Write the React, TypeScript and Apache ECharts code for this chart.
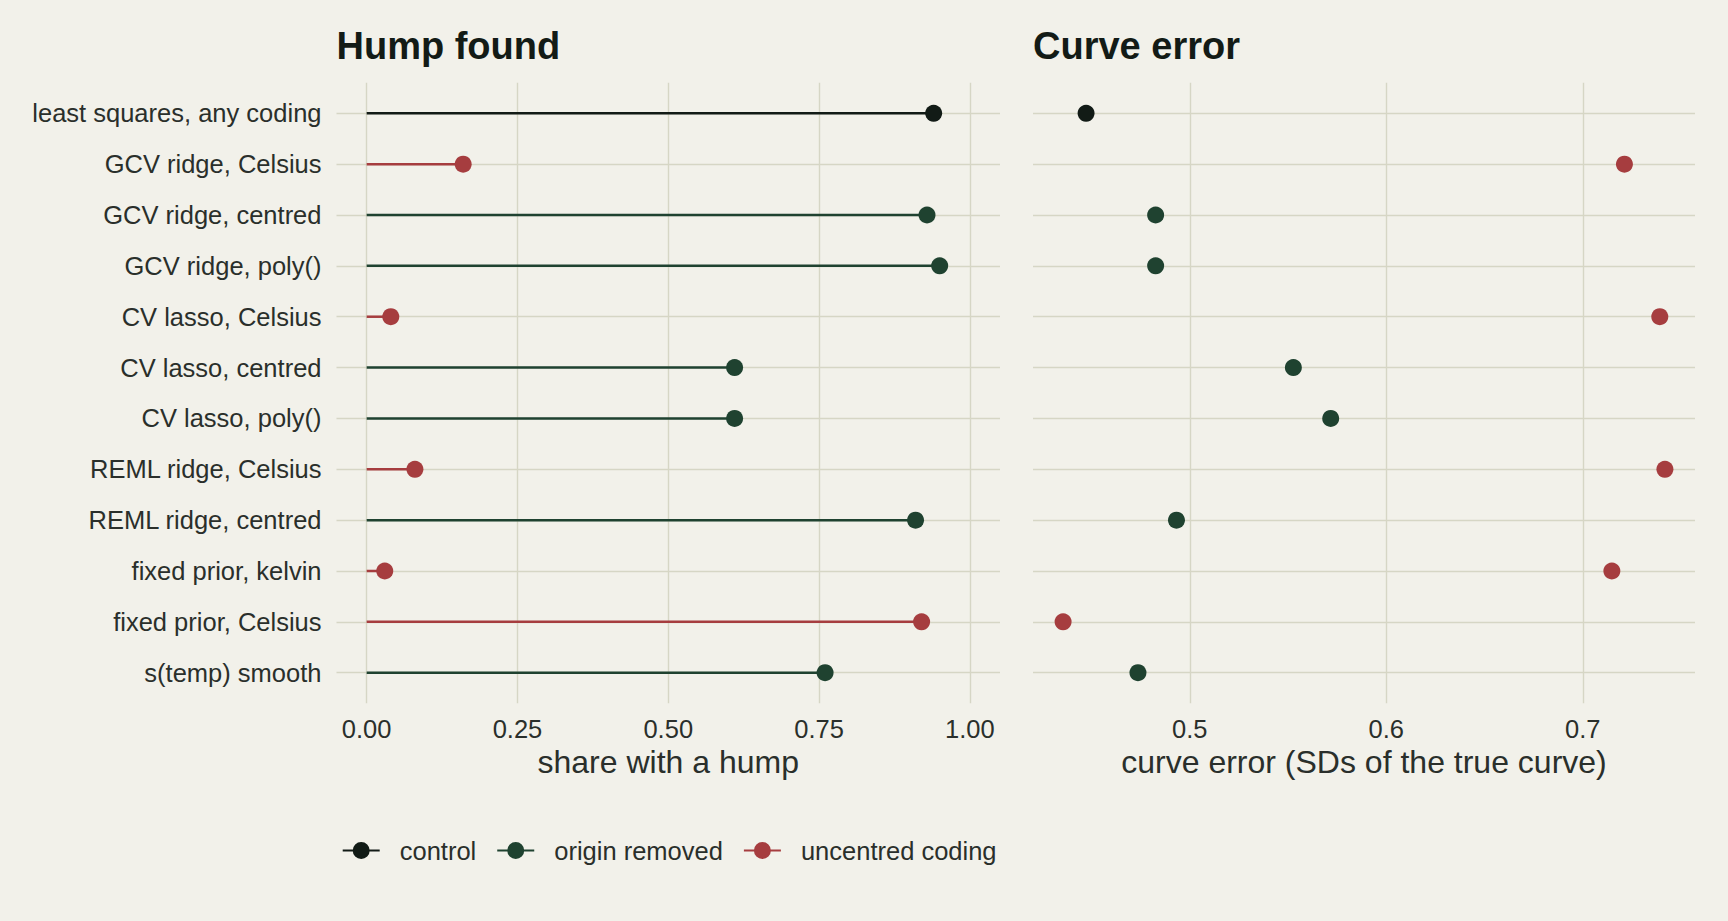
import React, { useEffect, useRef } from "react";
import * as echarts from "echarts";

// ---------- data ----------
const categories = [
  "least squares, any coding",
  "GCV ridge, Celsius",
  "GCV ridge, centred",
  "GCV ridge, poly()",
  "CV lasso, Celsius",
  "CV lasso, centred",
  "CV lasso, poly()",
  "REML ridge, Celsius",
  "REML ridge, centred",
  "fixed prior, kelvin",
  "fixed prior, Celsius",
  "s(temp) smooth",
];
const groupOf = [
  "control",
  "uncentred coding",
  "origin removed",
  "origin removed",
  "uncentred coding",
  "origin removed",
  "origin removed",
  "uncentred coding",
  "origin removed",
  "uncentred coding",
  "uncentred coding",
  "origin removed",
];
const humpShare = [0.94, 0.16, 0.929, 0.95, 0.04, 0.61, 0.61, 0.08, 0.91, 0.03, 0.92, 0.76];
const curveError = [0.4472, 0.7212, 0.4826, 0.4826, 0.7392, 0.5527, 0.5717, 0.7418, 0.4932, 0.7148, 0.4355, 0.4736];
const groups = ["control", "origin removed", "uncentred coding"];
const groupColors = ["#121b16", "#1f4230", "#a63d3f"];
const humpTicks = [0, 0.25, 0.5, 0.75, 1];
const errorTicks = [0.5, 0.6, 0.7];
const panelTitles = ["Hump found", "Curve error"];
const axisTitles = ["share with a hump", "curve error (SDs of the true curve)"];

// ---------- style / layout ----------
const BG = "#f2f1ea";
const GRID = "#d6d6c5";
const TEXT = "#2a2f2b";
const TITLE = "#131b16";
const FONT = "'Liberation Sans', Arial, Helvetica, sans-serif";
const SMALL = 25.5;
const LEGEND_FONT = 25.5;

const PA = { left: 336.5, right: 1000 };
const PB = { left: 1033, right: 1695 };
const ROW_TOP = 113.3;
const ROW_BOTTOM = 672.7;
const rowStep = (ROW_BOTTOM - ROW_TOP) / (categories.length - 1);
const PLOT_TOP = ROW_TOP - 0.6 * rowStep;
const PLOT_BOTTOM = ROW_BOTTOM + 0.6 * rowStep;

const LEGEND_ICON =
  "path://M0,7.5L37,7.5L37,9.5L0,9.5Z M10,8.5A8.5,8.5,0,1,1,27,8.5A8.5,8.5,0,1,1,10,8.5Z";

export default function App() {
  const ref = useRef<HTMLDivElement>(null);

  useEffect(() => {
    document.body.style.margin = "0";
    document.body.style.background = BG;
    if (!ref.current) return;
    const chart = echarts.init(ref.current, undefined, { renderer: "svg" });

    // x ranges (ggplot-style 5% expansion)
    const aLo = humpTicks[0], aHi = humpTicks[humpTicks.length - 1];
    const aPad = 0.05 * (aHi - aLo);
    const aMin = aLo - aPad, aMax = aHi + aPad;
    const eMinD = Math.min(...curveError), eMaxD = Math.max(...curveError);
    const ePad = 0.05 * (eMaxD - eMinD);
    const bMin = eMinD - ePad, bMax = eMaxD + ePad;

    const px = (p: { left: number; right: number }, lo: number, hi: number, v: number) =>
      p.left + ((v - lo) / (hi - lo)) * (p.right - p.left);

    const aTickL = px(PA, aMin, aMax, humpTicks[0]);
    const aTickR = px(PA, aMin, aMax, humpTicks[humpTicks.length - 1]);
    const bTickL = px(PB, bMin, bMax, errorTicks[0]);
    const bTickR = px(PB, bMin, bMax, errorTicks[errorTicks.length - 1]);

    const gridBase = { outerBoundsMode: "none", containLabel: false } as any;
    const grids = [
      { ...gridBase, left: aTickL, width: aTickR - aTickL, top: PLOT_TOP, height: PLOT_BOTTOM - PLOT_TOP },
      { ...gridBase, left: PA.left, width: PA.right - PA.left, top: ROW_TOP, height: ROW_BOTTOM - ROW_TOP },
      { ...gridBase, left: bTickL, width: bTickR - bTickL, top: PLOT_TOP, height: PLOT_BOTTOM - PLOT_TOP },
      { ...gridBase, left: PB.left, width: PB.right - PB.left, top: ROW_TOP, height: ROW_BOTTOM - ROW_TOP },
    ];

    const tickAxis = (gridIndex: number, ticks: number[], digits: number) => ({
      type: "value",
      gridIndex,
      min: ticks[0],
      max: ticks[ticks.length - 1],
      interval: ticks[1] - ticks[0],
      axisLine: { show: false },
      axisTick: { show: false },
      splitLine: { show: true, lineStyle: { color: GRID, width: 1.4 } },
      axisLabel: {
        fontSize: SMALL,
        color: TEXT,
        fontFamily: FONT,
        margin: 12.5,
        formatter: (v: number) => v.toFixed(digits),
      },
    });

    const xAxes = [
      tickAxis(0, humpTicks, 2),
      { type: "value", gridIndex: 1, min: aMin, max: aMax, show: false },
      tickAxis(2, errorTicks, 1),
      { type: "value", gridIndex: 3, min: bMin, max: bMax, show: false },
    ];

    const catAxis = (gridIndex: number, showLabels: boolean) => ({
      type: "category",
      gridIndex,
      data: categories,
      inverse: true,
      boundaryGap: false,
      axisLine: { show: false },
      axisTick: { show: false },
      axisLabel: {
        show: showLabels,
        interval: 0,
        fontSize: SMALL,
        color: TEXT,
        fontFamily: FONT,
        margin: 15,
      },
      splitLine: { show: true, interval: 0, lineStyle: { color: GRID, width: 1.4 } },
    });

    const yAxes = [
      { type: "value", gridIndex: 0, min: 0, max: 1, show: false },
      catAxis(1, true),
      { type: "value", gridIndex: 2, min: 0, max: 1, show: false },
      catAxis(3, false),
    ];

    const series: any[] = [];
    groups.forEach((g, gi) => {
      const color = groupColors[gi];
      const idx = categories.map((_, i) => i).filter((i) => groupOf[i] === g);
      const hump = idx.map((i) => [humpShare[i], i]);
      const err = idx.map((i) => [curveError[i], i]);
      series.push({
        type: "custom",
        name: g,
        xAxisIndex: 1,
        yAxisIndex: 1,
        itemStyle: { color },
        encode: { x: 0, y: 1 },
        z: 2,
        data: hump,
        renderItem: (_params: any, api: any) => {
          const v = api.value(0);
          const c = api.value(1);
          const a = api.coord([0, c]);
          const b = api.coord([v, c]);
          return {
            type: "line",
            shape: { x1: a[0], y1: a[1], x2: b[0], y2: b[1] },
            style: { stroke: color, lineWidth: 2.5 },
          };
        },
      });
      series.push({
        type: "scatter",
        name: g,
        xAxisIndex: 1,
        yAxisIndex: 1,
        symbol: "circle",
        symbolSize: 17,
        itemStyle: { color, opacity: 1 },
        z: 3,
        data: hump,
      });
      series.push({
        type: "scatter",
        name: g,
        xAxisIndex: 3,
        yAxisIndex: 3,
        symbol: "circle",
        symbolSize: 17,
        itemStyle: { color, opacity: 1 },
        z: 3,
        data: err,
      });
    });

    const graphics: any[] = [
      {
        type: "text",
        x: PA.left,
        y: 45.8,
        style: { text: panelTitles[0], fill: TITLE, font: `bold 38px ${FONT}`, textAlign: "left", verticalAlign: "middle" },
      },
      {
        type: "text",
        x: PB.left,
        y: 45.8,
        style: { text: panelTitles[1], fill: TITLE, font: `bold 38px ${FONT}`, textAlign: "left", verticalAlign: "middle" },
      },
      {
        type: "text",
        x: (PA.left + PA.right) / 2,
        y: 762,
        style: { text: axisTitles[0], fill: TEXT, font: `32px ${FONT}`, textAlign: "center", verticalAlign: "middle" },
      },
      {
        type: "text",
        x: (PB.left + PB.right) / 2,
        y: 762,
        style: { text: axisTitles[1], fill: TEXT, font: `32px ${FONT}`, textAlign: "center", verticalAlign: "middle" },
      },
    ];

    chart.setOption({
      animation: false,
      backgroundColor: BG,
      textStyle: { fontFamily: FONT },
      grid: grids,
      xAxis: xAxes,
      yAxis: yAxes,
      series,
      legend: {
        left: 337.7,
        top: 832.5,
        orient: "horizontal",
        selectedMode: false,
        itemWidth: 37,
        itemHeight: 17,
        itemGap: 21,
        textStyle: { fontSize: LEGEND_FONT, color: TEXT, fontFamily: FONT, padding: [0, 0, 0, 15] },
        data: groups.map((g, gi) => ({ name: g, icon: LEGEND_ICON, itemStyle: { color: groupColors[gi] } })),
      },
      graphic: graphics,
    } as any);

    return () => chart.dispose();
  }, []);

  return (
    <div
      ref={ref}
      style={{ position: "absolute", left: 0, top: 0, width: 1728, height: 921, background: BG }}
    />
  );
}
